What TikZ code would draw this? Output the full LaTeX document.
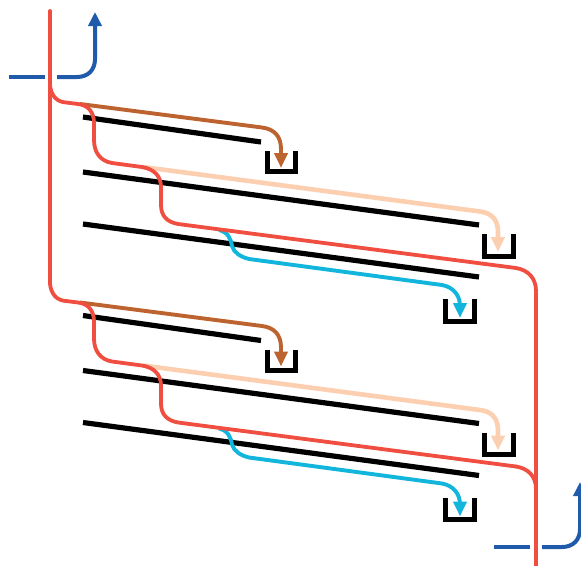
\documentclass[tikz,border=0pt]{standalone}
\usetikzlibrary{arrows.meta}
\definecolor{redl}{HTML}{F04E40}
\definecolor{bluel}{HTML}{1F5BAA}
\definecolor{brownl}{HTML}{BC6330}
\definecolor{peachl}{HTML}{FBCFB0}
\definecolor{cyanl}{HTML}{12B5DC}
\tikzset{
  blackline/.style={line width=5.2pt,black},
  binbox/.style={line width=5pt,black,miter limit=10},
  redline/.style={line width=3.8pt,redl,line cap=round},
  blueline/.style={line width=4pt,bluel},
  feed/.style={line width=3.9pt,-{Triangle[length=15pt,width=13pt]}},
}
\begin{document}
\begin{tikzpicture}[x=1pt,y=-1pt]
\useasboundingbox (0,0) rectangle (581,565);
\begin{scope}
\clip (0,0) rectangle (581,565);
% blue feeds
\draw[blueline] (9,77) -- (45,77);
\draw[blueline,-{Triangle[length=14pt,width=13pt]}] (57,77) -- (77,77) .. controls (88,77) and (95,70) .. (95,59) -- (95,12);
\draw[blueline] (494,547) -- (530,547);
\draw[blueline,-{Triangle[length=14pt,width=13pt]}] (542,547) -- (562,547) .. controls (573,547) and (580,540) .. (580,529) -- (580,482);
% repeating units
\foreach \dy in {0,198.5}{
\begin{scope}[yshift=-\dy pt]
  \coordinate (a1) at (83,117);  \coordinate (a2) at (261,142);
  \coordinate (b1) at (83,172);  \coordinate (b2) at (479,225);
  \coordinate (c1) at (83,224);  \coordinate (c2) at (479,277);
  \draw[blackline] (a1) -- (a2);
  \draw[blackline] (b1) -- (b2);
  \draw[blackline] (c1) -- (c2);
  \draw[binbox] (267,151) -- (267,171.5) -- (295.5,171.5) -- (295.5,151);
  \draw[binbox] (484.5,234) -- (484.5,256) -- (513,256) -- (513,234);
  \draw[binbox] (445.5,299) -- (445.5,321) -- (474,321) -- (474,299);
  \draw[feed,brownl] (80,104) -- (262,127.5) .. controls (274,129) and (281,136) .. (281,149) -- (281,168);
  \draw[feed,peachl,line width=4.6pt] (143,167) -- (480,211.5) .. controls (492,213) and (498,220) .. (498,232) -- (498,252);
  \draw[feed,cyanl] (219,230) .. controls (228,232) and (231,239) .. (232,246) .. controls (234,253) and (241,257) .. (249,259) -- (442,285) .. controls (453,287) and (460,295) .. (460,306) -- (460,318);
  \draw[redline] (50,85) .. controls (51,96) and (57,102) .. (66,102.5) -- (78,104) .. controls (88,105) and (94,112) .. (94,123) -- (94,140) .. controls (94,152) and (100,161) .. (112,163) -- (142,167) .. controls (154,169) and (161,176) .. (161,187) -- (161,205) .. controls (161,216) and (167,222) .. (178,224) -- (516,268);
\end{scope}
}
% red trunks
\draw[redline] (50,11) -- (50,283.5);
\draw[redline] (516,268) .. controls (528,270) and (536,278) .. (536,291) -- (536,566);
\draw[redline] (516,466.5) .. controls (528,468.5) and (536,476) .. (536,489);
\end{scope}
\end{tikzpicture}
\end{document}
